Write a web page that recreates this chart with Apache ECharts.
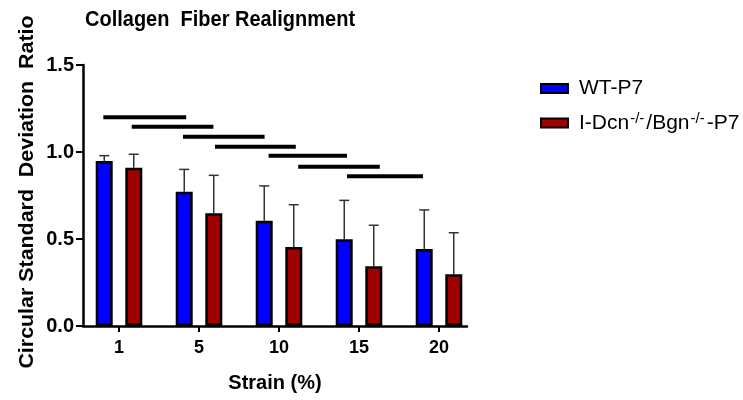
<!DOCTYPE html>
<html>
<head>
<meta charset="utf-8">
<script src="https://cdn.jsdelivr.net/npm/echarts@6/dist/echarts.min.js"></script>
<style>
  html, body { margin: 0; padding: 0; background: #fff; }
  #chart { width: 743px; height: 400px; }
</style>
</head>
<body>
<div id="chart"></div>
<script>
// Strain levels (category labels on the x axis)
const strains = ['1', '5', '10', '15', '20'];

// Mean circular standard deviation ratio per strain
const wtMean = [0.948, 0.772, 0.605, 0.498, 0.443];
const koMean = [0.910, 0.648, 0.454, 0.343, 0.297];

// Upper end of the error bars (mean + SD)
const wtUpper = [0.979, 0.900, 0.805, 0.722, 0.667];
const koUpper = [0.987, 0.866, 0.697, 0.579, 0.536];

// Significance brackets: [start index, end index, height]
const sigStart = [-0.196, 0.159, 0.80, 1.20, 1.87, 2.24, 2.85];
const sigEnd   = [0.84, 1.18, 1.82, 2.21, 2.85, 3.26, 3.80];
const sigLevel = [1.200, 1.145, 1.088, 1.030, 0.979, 0.915, 0.860];

// Y axis ticks
const yTicks = [0, 0.5, 1.0, 1.5];

const FONT = '"Liberation Sans", Arial, sans-serif';
const BAR_W = 17;
const BAR_OFFSET = 14.75;

const chart = echarts.init(document.getElementById('chart'));

function errorBars(upper, mean, dx) {
  return {
    type: 'custom',
    silent: true,
    z: 1,
    data: mean.map((m, i) => [i, m, upper[i]]),
    renderItem: function (params, api) {
      const base = api.coord([api.value(0), api.value(1)]);
      const top = api.coord([api.value(0), api.value(2)]);
      const x = base[0] + dx;
      const style = { stroke: '#333', lineWidth: 1.5 };
      return {
        type: 'group',
        children: [
          { type: 'line', shape: { x1: x, y1: base[1], x2: x, y2: top[1] }, style: style },
          { type: 'line', shape: { x1: x - 5, y1: top[1], x2: x + 5, y2: top[1] }, style: style }
        ]
      };
    }
  };
}

const sigData = sigStart.map((s, i) => [s, sigEnd[i], sigLevel[i]]);

chart.setOption({
  animation: false,
  backgroundColor: '#fff',
  textStyle: { fontFamily: FONT },
  graphic: [
    {
      type: 'text', x: 85, y: 9, scaleY: 1.12,
      style: {
        text: 'Collagen  Fiber Realignment', font: 'bold 20px ' + FONT, fill: '#000',
        verticalAlign: 'top'
      }
    },
    {
      type: 'text', x: 27, y: 192, rotation: Math.PI / 2, scaleX: 1.07,
      style: {
        text: 'Circular Standard  Deviation  Ratio', font: 'bold 20px ' + FONT, fill: '#000',
        align: 'center', verticalAlign: 'middle'
      }
    }
  ],
  legend: {
    orient: 'vertical',
    left: 535,
    top: 73,
    itemWidth: 27,
    itemHeight: 9,
    itemGap: 12,
    icon: 'rect',
    textStyle: {
      fontFamily: FONT, fontSize: 21, color: '#000', padding: [0, 0, 0, 6],
      rich: {
        n: { fontFamily: FONT, fontSize: 21, color: '#000' },
        s: { fontFamily: FONT, fontSize: 15, color: '#000', verticalAlign: 'top', padding: [0, 2, 9, 1] }
      }
    },
    formatter: function (name) {
      if (name === 'WT-P7') return '{n|WT-P7}';
      return '{n|I-Dcn}{s|-/-}{n|/Bgn}{s|-/-}{n|-P7}';
    },
    data: ['WT-P7', 'KO']
  },
  grid: { left: 83, top: 65, width: 384, height: 261, containLabel: false },
  xAxis: {
    type: 'value',
    min: -0.45,
    max: 4.35,
    name: 'Strain (%)',
    nameLocation: 'middle',
    nameGap: 47,
    nameTextStyle: { fontFamily: FONT, fontWeight: 'bold', fontSize: 20, color: '#000' },
    axisLine: { onZero: false, lineStyle: { color: '#000', width: 2.5 } },
    axisTick: { show: true, customValues: [0, 1, 2, 3, 4], length: 6, lineStyle: { color: '#000', width: 2 } },
    axisLabel: {
      customValues: [0, 1, 2, 3, 4],
      formatter: v => strains[Math.round(v)],
      fontFamily: FONT, fontWeight: 'bold', fontSize: 18, color: '#000', margin: 13
    },
    splitLine: { show: false }
  },
  yAxis: {
    type: 'value',
    min: 0,
    max: 1.5,
    interval: 0.5,
    axisLine: { show: true, onZero: false, lineStyle: { color: '#000', width: 2.5 } },
    axisTick: { show: true, length: 7, lineStyle: { color: '#000', width: 2 } },
    axisLabel: {
      customValues: yTicks,
      formatter: v => v.toFixed(1),
      fontFamily: FONT, fontWeight: 'bold', fontSize: 20, color: '#000', margin: 9
    },
    splitLine: { show: false }
  },
  series: [
    {
      name: 'WT-P7',
      type: 'bar',
      barWidth: BAR_W,
      barGap: '74%',
      data: wtMean.map((v, i) => [i, v]),
      itemStyle: { color: '#0000ff', borderColor: '#000', borderWidth: 2.5 },
      z: 2
    },
    {
      name: 'KO',
      type: 'bar',
      barWidth: BAR_W,
      data: koMean.map((v, i) => [i, v]),
      itemStyle: { color: '#a00000', borderColor: '#000', borderWidth: 2.5 },
      z: 2
    },
    errorBars(wtUpper, wtMean, -BAR_OFFSET),
    errorBars(koUpper, koMean, BAR_OFFSET),
    {
      type: 'custom',
      silent: true,
      data: sigData,
      renderItem: function (params, api) {
        const a = api.coord([api.value(0), api.value(2)]);
        const b = api.coord([api.value(1), api.value(2)]);
        return {
          type: 'line',
          shape: { x1: a[0], y1: a[1], x2: b[0], y2: b[1] },
          style: { stroke: '#000', lineWidth: 4 }
        };
      }
    }
  ]
});
</script>
</body>
</html>
